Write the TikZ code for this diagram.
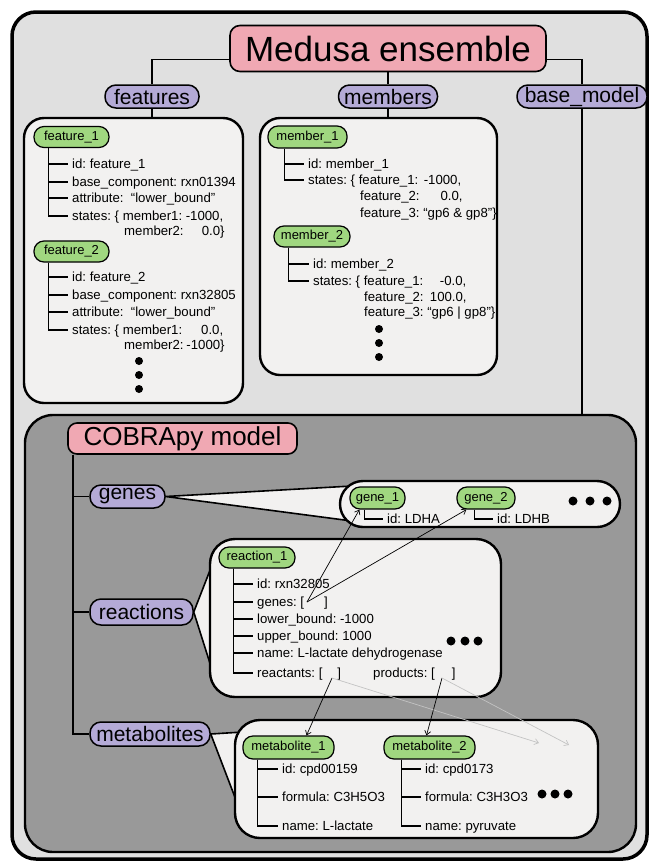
\documentclass[tikz,border=0pt]{standalone}
\usepackage{fontspec}
\setmainfont{Liberation Sans}
\usetikzlibrary{arrows.meta}
\definecolor{outerbg}{RGB}{224,224,224}
\definecolor{boxfill}{RGB}{242,241,240}
\definecolor{darkc}{RGB}{153,153,153}
\definecolor{pinkc}{RGB}{240,168,179}
\definecolor{purplec}{RGB}{180,170,214}
\definecolor{greenc}{RGB}{160,215,128}
\definecolor{lightarrow}{RGB}{195,195,195}
\frenchspacing
\begin{document}
\begin{tikzpicture}[x=1pt,y=-1pt,
  bigbox/.style={draw, line width=2.4pt, fill=boxfill, rounded corners=20pt, inner sep=0pt},
  pinknode/.style={draw, line width=1.6pt, fill=pinkc, rounded corners=9pt, inner sep=0pt},
  purplenode/.style={draw, line width=1.5pt, fill=purplec, rounded corners=11pt, inner sep=0pt, font=\fontsize{21}{24}\selectfont},
  greennode/.style={draw, line width=1.2pt, fill=greenc, rounded corners=10pt, inner sep=0pt, font=\fontsize{13}{15}\selectfont},
  item/.style={anchor=west, inner sep=0pt, font=\fontsize{13.2}{15}\selectfont, text height=12pt, text depth=3pt},
  tree/.style={line width=1.1pt},
  conn/.style={line width=1.6pt},
  ptr/.style={line width=0.7pt, -{Straight Barb[length=4pt,width=6pt]}},
  gptr/.style={ptr, draw=lightarrow}]
\useasboundingbox (0,0) rectangle (652,863);

% outer frame
\draw[line width=3.5pt, fill=outerbg, rounded corners=24pt] (12,12) rectangle (647,859);

% big boxes
\node[bigbox, minimum width=219pt, minimum height=285pt] (featbox) at (133.5,260.5) {};
\node[bigbox, minimum width=237pt, minimum height=257pt] (membox) at (378.5,246.5) {};
\node[bigbox, fill=darkc, rounded corners=28pt, minimum width=611pt, minimum height=437pt] (cobrabox) at (330.5,633.5) {};

% top level
\node[pinknode, rounded corners=10pt, minimum width=316pt, minimum height=46pt, font=\fontsize{35}{40}\selectfont] (medusa) at (388,48.5) {Medusa ensemble};
\node[purplenode, minimum width=94pt, minimum height=23pt] (features) at (152,96.5) {features};
\node[purplenode, minimum width=99pt, minimum height=23pt] (members) at (388,96.5) {members};
\node[purplenode, minimum width=130pt, minimum height=23pt] (basemodel) at (582,96.5) {base\_model};

\draw[conn] ([yshift=-11pt]medusa.west) -| (features.north);
\draw[conn] (medusa.south) -- (members.north);
\draw[conn] ([yshift=-11pt]medusa.east) -| (basemodel.north);
\draw[conn] (features.south) -- (features.south |- featbox.north);
\draw[conn] (members.south) -- (members.south |- membox.north);
\draw[conn] (basemodel.south) -- (basemodel.south |- cobrabox.north);

% features
\node[greennode, minimum width=75pt, minimum height=21pt] (f1) at (71.5,137) {feature\_1};
\node[item] (f1a) at (72,164) {id: feature\_1};
\node[item] (f1b) at (72,182) {base\_component: rxn01394};
\node[item] (f1c) at (72,198) {attribute:\ \ “lower\_bound”};
\node[item] (f1d) at (72,216) {states: \{ member1:\makebox[41pt][r]{-1000,}};
\node[item] (f1e) at (124,231) {member2:\makebox[41pt][r]{0.0\}}};
\foreach \n in {f1a,f1b,f1c,f1d}
  \draw[tree] ([xshift=15pt]f1.south west) |- ([xshift=-4pt]\n.west);

\node[greennode, minimum width=75pt, minimum height=21pt] (f2) at (71.5,251.5) {feature\_2};
\node[item] (f2a) at (72,277) {id: feature\_2};
\node[item] (f2b) at (72,295) {base\_component: rxn32805};
\node[item] (f2c) at (72,312) {attribute:\ \ “lower\_bound”};
\node[item] (f2d) at (72,330) {states: \{ member1:\makebox[41pt][r]{0.0,}};
\node[item] (f2e) at (124,345) {member2:\makebox[41pt][r]{-1000\}}};
\foreach \n in {f2a,f2b,f2c,f2d}
  \draw[tree] ([xshift=15pt]f2.south west) |- ([xshift=-4pt]\n.west);
\fill (139,361) circle (4pt) (139,375) circle (4pt) (139,389) circle (4pt);

% members
\node[greennode, minimum width=79pt, minimum height=22pt] (mb1) at (307.5,137) {member\_1};
\node[item] (mb1a) at (308,164) {id: member\_1};
\node[item] (mb1b) at (308,180) {states: \{ feature\_1:\makebox[43pt][r]{-1000,}};
\node[item] (mb1c) at (360,196) {feature\_2:\makebox[43pt][r]{0.0,}};
\node[item] (mb1d) at (360,213) {feature\_3: “gp6 \& gp8”\}};
\foreach \n in {mb1a,mb1b}
  \draw[tree] ([xshift=17pt]mb1.south west) |- ([xshift=-4pt]\n.west);

\node[greennode, minimum width=76pt, minimum height=21pt] (mb2) at (312,236.5) {member\_2};
\node[item] (mb2a) at (313,264) {id: member\_2};
\node[item] (mb2b) at (313,281) {states: \{ feature\_1:\makebox[43pt][r]{-0.0,}};
\node[item] (mb2c) at (364,297) {feature\_2:\makebox[43pt][r]{100.0,}};
\node[item] (mb2d) at (364,312) {feature\_3: “gp6 | gp8”\}};
\foreach \n in {mb2a,mb2b}
  \draw[tree] ([xshift=15pt]mb2.south west) |- ([xshift=-4pt]\n.west);
\fill (379,329) circle (4pt) (379,343) circle (4pt) (379,357) circle (4pt);

% COBRApy model
\node[pinknode, minimum width=229pt, minimum height=31pt, font=\fontsize{26}{30}\selectfont] (cobra) at (182.5,438.5) {COBRApy model};
\node[purplenode, minimum width=75pt, minimum height=23pt] (genes) at (127.5,496.5) {genes};
\node[purplenode, minimum width=103pt, minimum height=26pt] (reactions) at (141.5,612) {reactions};
\node[purplenode, minimum width=120pt, minimum height=24pt] (metabolites) at (150,734) {metabolites};
\draw[conn] ([xshift=6pt]cobra.south west) |- (genes.west);
\draw[conn] ([xshift=6pt]cobra.south west) |- (reactions.west);
\draw[conn] ([xshift=6pt]cobra.south west) |- (metabolites.west);

% wedges
\coordinate (gw1) at (352,486);
\coordinate (gw2) at (352,521);
\filldraw[conn, fill=boxfill, line join=round] (genes.east) -- (gw1) -- (gw2) -- cycle;
\coordinate (rw1) at (214,560);
\coordinate (rw2) at (214,676);
\filldraw[conn, fill=boxfill, line join=round] (reactions.east) -- (rw1) -- (rw2) -- cycle;
\coordinate (mw1) at (243,732);
\coordinate (mw2) at (241,813);
\filldraw[conn, fill=boxfill, line join=round] (metabolites.east) -- (mw1) -- (mw2) -- cycle;

% sub boxes
\node[bigbox, rounded corners=23pt, minimum width=280pt, minimum height=46pt] (genebox) at (480,504) {};
\node[bigbox, rounded corners=25pt, minimum width=291pt, minimum height=158pt] (rxnbox) at (355.5,618) {};
\node[bigbox, rounded corners=25pt, minimum width=363pt, minimum height=118pt] (metbox) at (416.5,779) {};

% genes
\node[greennode, minimum width=55pt, minimum height=22pt] (gene1) at (377.5,498) {gene\_1};
\node[item] (ldha) at (387,519) {id: LDHA};
\draw[tree] ([xshift=15pt]gene1.south west) |- ([xshift=-4pt]ldha.west);
\node[greennode, minimum width=58pt, minimum height=22pt] (gene2) at (486,498) {gene\_2};
\node[item] (ldhb) at (497,519) {id: LDHB};
\draw[tree] ([xshift=18pt]gene2.south west) |- ([xshift=-4pt]ldhb.west);
\fill (573,501) circle (4.5pt) (590,501) circle (4.5pt) (607,501) circle (4.5pt);

% reaction
\node[greennode, minimum width=76pt, minimum height=21pt] (r1) at (257,557.5) {reaction\_1};
\node[item] (r1a) at (257,584) {id: rxn32805};
\node[item] (r1b) at (257,602) {genes: [\hspace{20pt}]};
\node[item] (r1c) at (257,619) {lower\_bound: -1000};
\node[item] (r1d) at (257,636) {upper\_bound: 1000};
\node[item] (r1e) at (257,653) {name: L-lactate dehydrogenase};
\node[item] (r1f) at (257,673) {reactants: [\hspace{15pt}]};
\node[item] (r1g) at (373,673) {products: [\hspace{17pt}]};
\foreach \n in {r1a,r1b,r1c,r1d,r1e,r1f}
  \draw[tree] ([xshift=15pt]r1.south west) |- ([xshift=-4pt]\n.west);
\fill (451,641) circle (4.5pt) (465,641) circle (4.5pt) (478,641) circle (4.5pt);

% metabolites
\node[greennode, minimum width=91pt, minimum height=23pt] (m1) at (288.5,747.5) {metabolite\_1};
\node[item] (m1a) at (282,769) {id: cpd00159};
\node[item] (m1b) at (282,797) {formula: C3H5O3};
\node[item] (m1c) at (282,826) {name: L-lactate};
\foreach \n in {m1a,m1b,m1c}
  \draw[tree] ([xshift=15pt]m1.south west) |- ([xshift=-4pt]\n.west);
\node[greennode, minimum width=91pt, minimum height=23pt] (m2) at (429.5,747.5) {metabolite\_2};
\node[item] (m2a) at (425,769) {id: cpd0173};
\node[item] (m2b) at (425,797) {formula: C3H3O3};
\node[item] (m2c) at (425,826) {name: pyruvate};
\foreach \n in {m2a,m2b,m2c}
  \draw[tree] ([xshift=18pt]m2.south west) |- ([xshift=-4pt]\n.west);
\fill (542,794) circle (4.5pt) (555,794) circle (4.5pt) (568,794) circle (4.5pt);

% pointers
\coordinate (rg) at (307,602);
\coordinate (rr) at (332,678);
\coordinate (rp) at (442,678);
\coordinate (ga1) at (539,743);
\coordinate (ga2) at (569,745);
\draw[ptr] (rg) -- ([xshift=10pt]gene1.south west);
\draw[ptr] (rg) -- ([xshift=10pt]gene2.south west);
\draw[ptr] (rr) -- ([xshift=18pt]m1.north);
\draw[ptr] (rp) -- ([xshift=-3pt]m2.north);
\draw[gptr] (rr) -- (ga1);
\draw[gptr] (rp) -- (ga2);
\end{tikzpicture}
\end{document}
